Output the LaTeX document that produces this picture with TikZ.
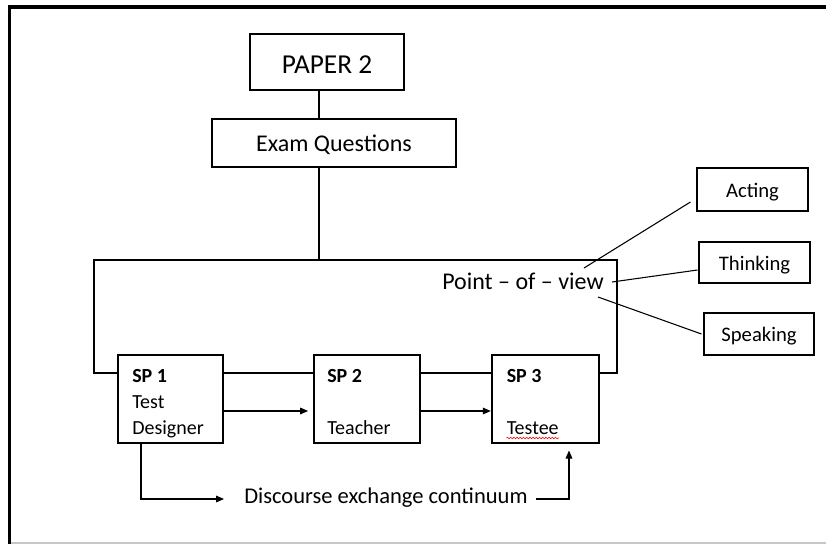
\documentclass[tikz,border=0pt]{standalone}
\usepackage{fontspec}
\setmainfont{Carlito}
\usetikzlibrary{arrows.meta,decorations.pathmorphing}

\begin{document}
\begin{tikzpicture}[x=0.75pt,y=-0.75pt,
  box/.style={draw, line width=0.8pt, inner sep=0pt, fill=white, text depth=0pt},
  link/.style={line width=0.8pt},
  arr/.style={line width=0.8pt, -{Triangle[length=6pt,width=5pt]}},
  sptext/.style={inner sep=0pt, anchor=base west, font=\fontsize{15pt}{18pt}\selectfont},
  side/.style={box, text height=11.3pt, font=\fontsize{15.5pt}{18pt}\selectfont},
]
\useasboundingbox (0,0) rectangle (826,544);

% page frame
\draw[line width=2.6pt, line join=miter] (826,7) -- (9.5,7) -- (9.5,544);
\draw[line width=1.1pt, color=black!22] (11,543) -- (826,543);

% top of the hierarchy
\node[box, line width=2pt, minimum width=115.5pt, minimum height=42pt, text height=17pt,
      font=\fontsize{20.5pt}{24pt}\selectfont] (paper) at (327,62) {PAPER 2};
\node[box, minimum width=183pt, minimum height=36pt, text height=12.9pt,
      font=\fontsize{18pt}{22pt}\selectfont] (exam) at (334,143) {Exam Questions};

% point-of-view frame (its lower edge runs behind the SP boxes)
\node[draw, line width=0.8pt, inner sep=0pt, minimum width=392.25pt,
      minimum height=84.75pt] (pov) at (355.5,316.5) {};
\node[inner sep=0pt, anchor=base west, font=\fontsize{18pt}{22pt}\selectfont]
      (povtext) at (442,289) {Point -- of -- view};

\coordinate (spine) at (319,0);
\draw[link] (paper.south -| spine) -- (exam.north -| spine);
\draw[link] (exam.south -| spine) -- (pov.north -| spine);

% speaker positions
\node[box, minimum width=78.75pt, minimum height=66pt] (sp1) at (170.5,399) {};
\node[box, minimum width=79.5pt, minimum height=66pt] (sp2) at (367,399) {};
\node[box, minimum width=80.25pt, minimum height=66pt] (sp3) at (545.5,399) {};

\node[sptext] (sp1a) at (132,382) {\bfseries SP 1};
\node[sptext] (sp1b) at (132,408) {Test};
\node[sptext] (sp1c) at (132,434) {Designer};
\node[sptext] (sp2a) at (327,382) {\bfseries SP 2};
\node[sptext] (sp2b) at (327,434) {Teacher};
\node[sptext] (sp3a) at (506.5,382) {\bfseries SP 3};
\node[sptext] (sp3b) at (506.5,434) {Testee};
\draw[red, line width=0.45pt, decorate,
      decoration={snake, amplitude=0.55pt, segment length=2.4pt}]
  ([shift={(0,4)}]sp3b.base west) -- ([shift={(0,4)}]sp3b.base east);

\coordinate (arrowrow) at (0,411);
\draw[arr, shorten >=4pt] (sp1.east |- arrowrow) -- (sp2.west |- arrowrow);
\draw[arr, shorten >=0.5pt] (sp2.east |- arrowrow) -- (sp3.west |- arrowrow);

% modes of the point of view
\node[side, minimum width=83.25pt, minimum height=32.25pt] (acting) at (752.5,189.5) {Acting};
\node[side, minimum width=83.25pt, minimum height=30.75pt] (thinking) at (754.5,262.5) {Thinking};
\node[side, minimum width=82.5pt, minimum height=31.5pt] (speaking) at (759,334) {Speaking};

\coordinate (fromA) at (584,268);
\coordinate (fromT) at (612,282);
\coordinate (fromS) at (598,297);
\draw[link] (fromA) -- ([shift={(-6,12.5)}]acting.west);
\draw[link] (fromT) -- ([shift={(-1,7.5)}]thinking.west);
\draw[link] (fromS) -- ([shift={(-2,0)}]speaking.west);

% discourse exchange continuum
\node[inner sep=0pt, anchor=base west, font=\fontsize{16.9pt}{20pt}\selectfont]
      (disc) at (244,503) {Discourse exchange continuum};
\coordinate (dstart) at (141,0);
\coordinate (dend) at (569,0);
\coordinate (drow) at (0,499);
\draw[arr] (sp1.south -| dstart) |- ([shift={(-20,0)}]disc.west |- drow);
\draw[arr] ([shift={(8,0)}]disc.east |- drow) -| ([shift={(0,7)}]sp3.south -| dend);
\end{tikzpicture}
\end{document}
